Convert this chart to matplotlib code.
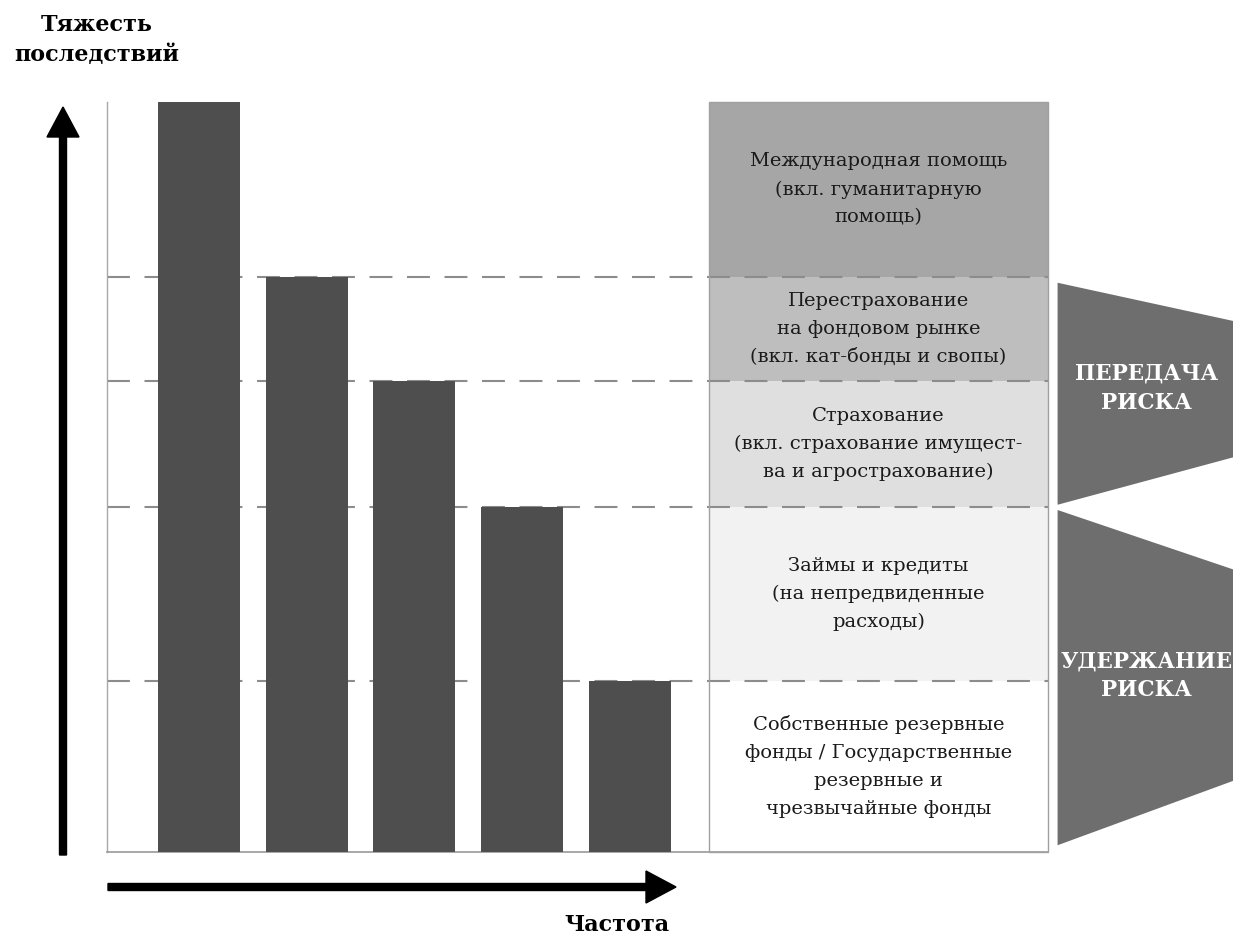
import matplotlib
matplotlib.use('Agg')
import matplotlib.pyplot as plt
from matplotlib.patches import Rectangle, Polygon, FancyArrow

plt.rcParams['font.family'] = ['DejaVu Serif']

# -------------------------------------------------------------------------
# Data
# -------------------------------------------------------------------------
# bar heights (severity, % of full height) by frequency class
bar_pos = [0, 1, 2, 3, 4]
bar_heights = [100.0, 76.7, 62.8, 46.0, 22.8]

# instrument layers: upper / lower bound of each layer
layer_tops = [100.0, 76.7, 62.8, 46.0, 22.8]
layer_bottoms = [76.7, 62.8, 46.0, 22.8, 0.0]
layer_colors = ['#a6a6a6', '#bebebe', '#dfdfdf', '#f2f2f2', '#ffffff']
layer_labels = [
    'Международная помощь\n(вкл. гуманитарную\nпомощь)',
    'Перестрахование\nна фондовом рынке\n(вкл. кат-бонды и свопы)',
    'Страхование\n(вкл. страхование имущест-\nва и агрострахование)',
    'Займы и кредиты\n(на непредвиденные\nрасходы)',
    'Собственные резервные\nфонды / Государственные\nрезервные и\nчрезвычайные фонды',
]

# risk strategy groups: (top, bottom) in severity units
group_labels = ['ПЕРЕДАЧА\nРИСКА', 'УДЕРЖАНИЕ\nРИСКА']
group_spans = [(76.7, 46.0), (46.0, 0.0)]

y_title = 'Тяжесть\nпоследствий'
x_title = 'Частота'

# -------------------------------------------------------------------------
# Figure
# -------------------------------------------------------------------------
W, H = 1233, 947
fig = plt.figure(figsize=(W / 100, H / 100), dpi=100)

# decoration layer in pixel coordinates (arrows, axis titles)
deco = fig.add_axes([0, 0, 1, 1], zorder=0)
deco.set_xlim(0, W)
deco.set_ylim(H, 0)
deco.axis('off')

# main chart area
left, right, top, bottom = 107, 1048, 102, 852
ax = fig.add_axes([left / W, (H - bottom) / H, (right - left) / W, (bottom - top) / H],
                  zorder=1)
ax.patch.set_alpha(0)
ax.set_xlim(-0.854, 7.883)
ax.set_ylim(0, 100)
ax.set_xticks([])
ax.set_yticks([])
for s in ['top', 'right']:
    ax.spines[s].set_visible(False)
ax.spines['left'].set_color('#a8a8a8')
ax.spines['bottom'].set_color('#9a9a9a')
ax.spines['left'].set_linewidth(1.0)
ax.spines['bottom'].set_linewidth(1.2)

box_left = 4.735
box_right = 7.883

# layer boxes
for t, b, c, lab in zip(layer_tops, layer_bottoms, layer_colors, layer_labels):
    ax.add_patch(Rectangle((box_left, b), box_right - box_left, t - b,
                           facecolor=c, edgecolor='none', zorder=1))
    ax.text((box_left + box_right) / 2, (t + b) / 2, lab, ha='center', va='center',
            fontsize=14, linespacing=1.7, color='#1a1a1a', zorder=4)
ax.add_patch(Rectangle((box_left, 0), box_right - box_left, 100, facecolor='none',
                       edgecolor='#a0a0a0', lw=1.0, zorder=4, clip_on=False))

# dashed level lines
ax.hlines(layer_bottoms[:-1], -0.854, box_right, colors='#8c8c8c',
          linestyles=(0, (11, 7)), lw=1.5, zorder=2)

# bars
ax.bar(bar_pos, bar_heights, width=0.76, color='#4e4e4e', edgecolor='none', zorder=3)

# risk strategy wedges
wedge_x0, wedge_x1 = 7.972, 9.7
insets = [(0.8, 6.2, 0.3, 7.0), (0.4, 8.8, 0.9, 10.0)]
for (gt, gb), lab, (a, b, c, d) in zip(group_spans, group_labels, insets):
    poly = Polygon([(wedge_x0, gt - a), (wedge_x1, gt - b),
                    (wedge_x1, gb + d), (wedge_x0, gb + c)],
                   closed=True, facecolor='#6e6e6e', edgecolor='none',
                   clip_on=False, zorder=2)
    ax.add_patch(poly)
    ax.text(8.80, (gt + gb) / 2 + 0.5, lab, ha='center', va='center', fontsize=15.5,
            fontweight='bold', color='white', linespacing=1.4, clip_on=False, zorder=3)

# axis arrows
deco.add_patch(FancyArrow(63, 855, 0, 107 - 855, width=7, head_width=32, head_length=30,
                          length_includes_head=True, color='black'))
deco.add_patch(FancyArrow(108, 887, 676 - 108, 0, width=7, head_width=32, head_length=30,
                          length_includes_head=True, color='black'))

deco.text(97, 40, y_title, ha='center', va='center', fontsize=16, fontweight='bold',
          linespacing=1.45)
deco.text(617, 925, x_title, ha='center', va='center', fontsize=16, fontweight='bold')

fig.savefig('out.png', dpi=100)
